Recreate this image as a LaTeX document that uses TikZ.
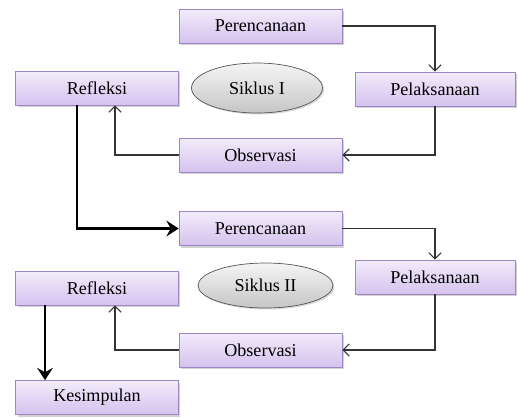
\documentclass[tikz,border=0pt]{standalone}
\usepackage{fontspec}
\setmainfont{Liberation Serif}
\usetikzlibrary{arrows.meta,shadows,shapes.geometric}

\definecolor{boxline}{HTML}{9D86C6}
\definecolor{boxtop}{HTML}{F2ECFA}
\definecolor{boxbot}{HTML}{D5C2EE}
\definecolor{ellline}{HTML}{555555}

\tikzset{
  stage/.style={rectangle, draw=boxline, top color=boxtop, bottom color=boxbot,
    minimum width=3.26cm, minimum height=0.68cm, inner sep=0pt,
    font=\fontsize{10.3}{12}\selectfont,
    drop shadow={shadow xshift=0.04cm, shadow yshift=-0.04cm, opacity=0.35}},
  siklus/.style={ellipse, draw=ellline, top color=gray!8, bottom color=gray!45,
    minimum width=2.62cm, minimum height=1.0cm, inner sep=0pt,
    font=\fontsize{10.3}{12}\selectfont,
    drop shadow={shadow xshift=0.03cm, shadow yshift=-0.03cm, opacity=0.3}},
  flow/.style={draw=black!80, line width=0.6pt, -{Straight Barb[length=3.5pt,width=7pt]}},
  bigflow/.style={draw=black, line width=1.6pt, -{Stealth[length=7pt,width=9pt,inset=2.5pt]}}
}

\begin{document}
\begin{tikzpicture}[x=0.02cm,y=-0.02cm]
    \useasboundingbox (0,0) rectangle (518,417);

    % siklus I
    \node[stage] (per1) at (260.5,26) {Perencanaan};
    \node[stage, minimum width=3.2cm] (pel1) at (435,89) {Pelaksanaan};
    \node[stage] (ref1) at (97,88) {Refleksi};
    \node[stage] (obs1) at (260.5,155) {Observasi};
    \node[siklus] (sik1) at (257,88) {Siklus I};

    % siklus II
    \node[stage] (per2) at (260.5,228.5) {Perencanaan};
    \node[stage, minimum width=3.2cm] (pel2) at (435,277) {Pelaksanaan};
    \node[stage] (ref2) at (97,288) {Refleksi};
    \node[stage] (obs2) at (260.5,350) {Observasi};
    \node[siklus, minimum width=2.7cm, minimum height=0.9cm] (sik2) at (265.5,285.5) {Siklus II};

    \node[stage] (kes) at (97,397.5) {Kesimpulan};

    \draw[flow] (per1.east) -| (pel1.north);
    \draw[flow] (pel1.south) |- (obs1.east);
    \draw[flow] (obs1.west) -| ([xshift=0.36cm]ref1.south);

    \draw[bigflow] ([xshift=-0.4cm]ref1.south) |- (per2.west);

    \draw[flow] (per2.east) -| (pel2.north);
    \draw[flow] (pel2.south) |- (obs2.east);
    \draw[flow] (obs2.west) -| ([xshift=0.36cm]ref2.south);

    \draw[bigflow] ([xshift=-1.04cm]ref2.south) -- ([xshift=-1.04cm]kes.north);
\end{tikzpicture}
\end{document}
